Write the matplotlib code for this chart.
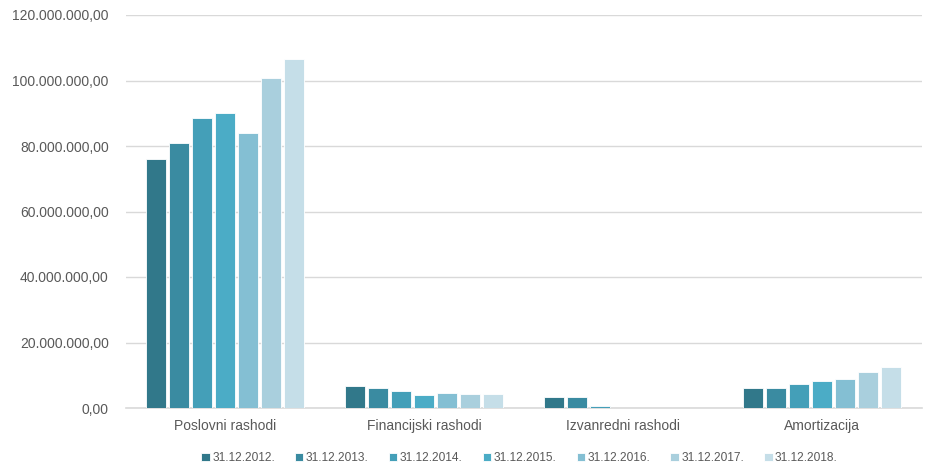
import numpy as np
import matplotlib
matplotlib.use("Agg")
from matplotlib import pyplot as plt
from matplotlib.ticker import FuncFormatter

categories = ["Poslovni rashodi", "Financijski rashodi", "Izvanredni rashodi", "Amortizacija"]
years = ["31.12.2012.", "31.12.2013.", "31.12.2014.", "31.12.2015.",
         "31.12.2016.", "31.12.2017.", "31.12.2018."]

# values in millions, one list per year (order follows categories)
v2012 = [76.0, 6.6, 3.5, 6.2]
v2013 = [80.8, 6.2, 3.5, 6.2]
v2014 = [88.6, 5.1, 0.6, 7.4]
v2015 = [90.2, 3.9, 0.0, 8.2]
v2016 = [84.1, 4.7, 0.0, 9.0]
v2017 = [100.9, 4.4, 0.0, 11.0]
v2018 = [106.7, 4.4, 0.0, 12.5]

series = [v2012, v2013, v2014, v2015, v2016, v2017, v2018]
COLOURS = ["#31788A", "#3A8BA1", "#449FB8", "#4BACC6", "#84BFD3", "#A9CFDD", "#C5DEE8"]

plt.rcParams["font.family"] = ["Liberation Sans", "DejaVu Sans"]

fig = plt.figure(figsize=(9.26, 4.67), dpi=100)
ax = fig.add_axes([125.5 / 926, 59 / 467, 796 / 926, 393 / 467])

x = np.arange(len(categories))
step = 0.1156
width = 0.097
for i, (vals, c, lab) in enumerate(zip(series, COLOURS, years)):
    offs = (i - 3) * step
    ax.bar(x + offs, np.array(vals) * 1e6, width=width, color=c,
           edgecolor="white", linewidth=0.6, label=lab, zorder=3)

ax.set_xlim(-0.5, 3.5)
ax.set_ylim(0, 120e6)
ax.set_yticks(np.arange(0, 120e6 + 1, 20e6))


def fmt(v, pos):
    s = "{:,.2f}".format(v)
    return s.replace(",", "X").replace(".", ",").replace("X", ".")


ax.yaxis.set_major_formatter(FuncFormatter(fmt))
ax.set_xticks(x)
ax.set_xticklabels(categories)
ax.tick_params(axis="both", length=0, labelsize=10, colors="#595959")
ax.tick_params(axis="x", pad=8)
ax.tick_params(axis="y", pad=12)
ax.grid(axis="y", color="#D9D9D9", lw=1, zorder=0)
for s in ["top", "right", "left"]:
    ax.spines[s].set_visible(False)
ax.spines["bottom"].set_color("#D9D9D9")
ax.spines["bottom"].set_linewidth(1.2)

leg = ax.legend(loc="upper center", bbox_to_anchor=(0.5 - 4 / 796, -0.107), ncol=7,
                frameon=False, fontsize=8.6, handlelength=0.7, handleheight=0.7,
                handletextpad=0.2, columnspacing=1.7, labelcolor="#595959",
                borderaxespad=0, borderpad=0.2)

fig.savefig("out.png", dpi=100)
